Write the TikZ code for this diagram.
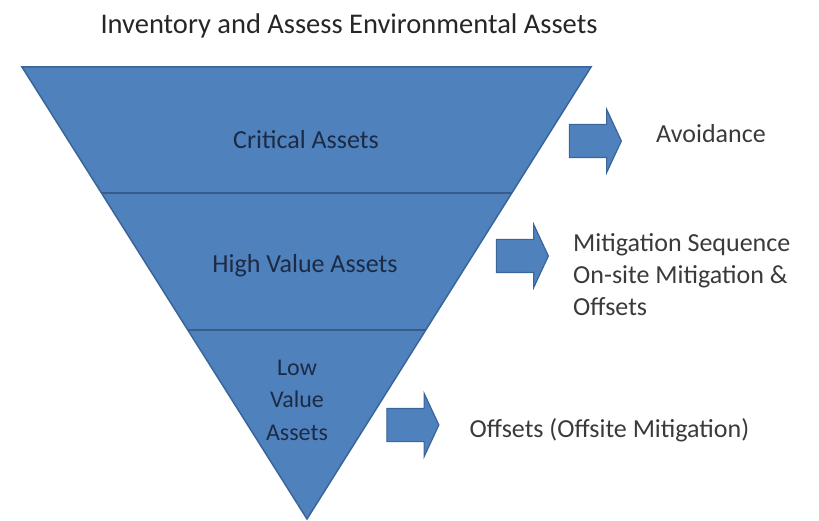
\documentclass[tikz,border=0pt]{standalone}
\usepackage{fontspec}
\setmainfont{Carlito}
\usetikzlibrary{arrows.meta,positioning,calc,shapes.arrows}
\definecolor{assetblue}{HTML}{4F81BD}
\definecolor{assetedge}{HTML}{3A6599}
\definecolor{bandline}{HTML}{385D8A}
\definecolor{labelink}{HTML}{1C2B45}
\definecolor{sideink}{HTML}{3A3A3A}
\definecolor{titleink}{HTML}{262626}

\begin{document}
\begin{tikzpicture}[
  x=1pt,y=-1pt,
  band/.style={font=\fontsize{26}{32}\selectfont,text=labelink,align=center,inner sep=0pt},
  push/.style={single arrow,draw=assetedge,fill=assetblue,line width=1.2pt,
    minimum height=52pt,single arrow head extend=15pt,
    single arrow tip angle=130,inner xsep=0pt,inner ysep=16pt},
  action/.style={font=\fontsize{26}{32}\selectfont,text=sideink,align=left,inner sep=0pt}
]
\useasboundingbox (0,0) rectangle (819,521);

% ---- title ----
\node[font=\fontsize{28.5}{34}\selectfont,text=titleink,inner sep=0pt] (title) at (349,26)
  {Inventory and Assess Environmental Assets};

% ---- inverted triangle ----
\coordinate (tl) at (22,67);
\coordinate (tr) at (591,67);
\coordinate (tip) at (307,519);
\draw[assetedge,fill=assetblue,line width=1.5pt] (tl) -- (tr) -- (tip) -- cycle;

% ---- band dividers ----
\coordinate (cut1l) at ($(tl)!0.279!(tip)$);
\coordinate (cut1r) at ($(tr)!0.279!(tip)$);
\coordinate (cut2l) at ($(tl)!0.582!(tip)$);
\coordinate (cut2r) at ($(tr)!0.582!(tip)$);
\draw[bandline,line width=1.5pt] (cut1l) -- (cut1r);
\draw[bandline,line width=1.5pt] (cut2l) -- (cut2r);

% ---- band labels ----
\node[band] (crit) at (306,140) {Critical Assets};
\node[band] (high) at (305,266) {High Value Assets};
\node[band,font=\fontsize{24}{32.5}\selectfont] (low) at (297,400) {Low\\Value\\Assets};

% ---- arrows ----
\node[push] (a1) at (591.5,141) {};
\node[push] (a2) at (518.5,256) {};
\node[push] (a3) at (409,425) {};

% ---- actions ----
\node[action,right=34pt of a1,yshift=7pt] (avoid) {Avoidance};
\node[action,right=24pt of a2,yshift=-18.5pt] (mitig)
  {Mitigation Sequence\\On-site Mitigation \&\\Offsets};
\node[action,right=30pt of a3,yshift=-5pt] (offs) {Offsets (Offsite Mitigation)};

\end{tikzpicture}
\end{document}
